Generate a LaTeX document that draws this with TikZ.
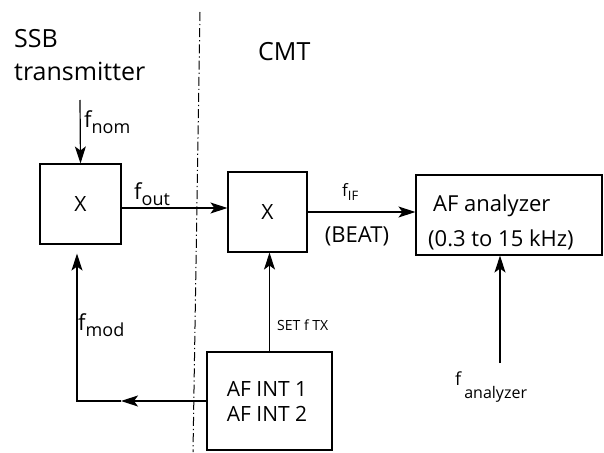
\documentclass[tikz,border=0pt]{standalone}
\usepackage{fontspec}
\setmainfont{Open Sans}
\usetikzlibrary{arrows.meta,calc}
\newcommand{\fs}[1]{\fontsize{#1}{#1}\selectfont}
\newcommand{\sbs}[2]{\raisebox{-0.28em}{\fs{#1}#2}}
\begin{document}
\begin{tikzpicture}[x=1pt,y=-1pt,
  box/.style={draw,line width=1.1pt,inner sep=0pt},
  arr/.style={-{Stealth[length=17pt,width=11pt,inset=4pt]},line width=1.2pt},
  lbl/.style={inner sep=0pt}]
\useasboundingbox (0,0) rectangle (604,452);
% divider
\draw[line width=1pt,dash pattern=on 9pt off 3pt on 1.2pt off 3pt] (200,12) -- (193,452);
% headings
\node[lbl,anchor=base west] (h1) at (14,48) {\fs{25}SSB};
\node[lbl,anchor=base west] (h2) at (14,80) {\fs{25}transmitter};
\node[lbl,anchor=base west] (h3) at (258,60) {\fs{25}CMT};
% boxes
\node[box,minimum width=81pt,minimum height=80pt] (x1) at (80.5,204) {\fs{21}X};
\node[box,minimum width=79pt,minimum height=80pt] (x2) at (267.5,212) {\fs{21}X};
\node[box,minimum width=186pt,minimum height=80pt] (af) at (509,215) {};
\node[lbl,anchor=base west] (af1) at (433,211) {\fs{22}AF analyzer};
\node[lbl,anchor=base west] (af2) at (428,246) {\fs{22}(0.3 to 15 kHz)};
\node[box,minimum width=125pt,minimum height=98pt] (int) at (269.5,401) {};
\node[lbl,anchor=base] (i1) at (267,396) {\fs{21}AF INT 1};
\node[lbl,anchor=base] (i2) at (267,421) {\fs{21}AF INT 2};
% connectors
\coordinate (nomtop) at (80,100);
\draw[arr] (nomtop) -- (x1.north);
\node[lbl,anchor=base west] (lnom) at (84,127) {\fs{22}f\sbs{18}{nom}};
\draw[arr] ([yshift=-4pt]x1.east) -- ([yshift=4pt]x2.west);
\node[lbl,anchor=base west] (lout) at (134,199) {\fs{22}f\sbs{18}{out}};
\draw[arr] (x2.east) -- (x2.east -| af.west);
\node[lbl,anchor=base west] (lif) at (342,196) {\fs{17}f\sbs{13}{IF}};
\node[lbl,anchor=base] (beat) at (357,242) {\fs{22}(BEAT)};
\coordinate (anb) at (500,363);
\draw[arr] (anb) -- (anb |- af.south);
\node[lbl,anchor=base west] (lan) at (455,385) {\fs{18}f\,\raisebox{-13pt}{\fs{16}analyzer}};
\draw[arr] (int.north) -- (int.north |- x2.south);
\node[lbl,anchor=base west] (lset) at (277,330) {\fs{14}SET f TX};
\coordinate (c1) at (77,401);
\coordinate (mid) at (121,401);
\draw[arr] (int.west) -- (mid);
\draw[arr,shorten >=9pt] (mid) -- (c1) -- (c1 |- x1.south);
\node[lbl,anchor=base west] (lmod) at (78,330) {\fs{22}f\sbs{18}{mod}};
\end{tikzpicture}
\end{document}
